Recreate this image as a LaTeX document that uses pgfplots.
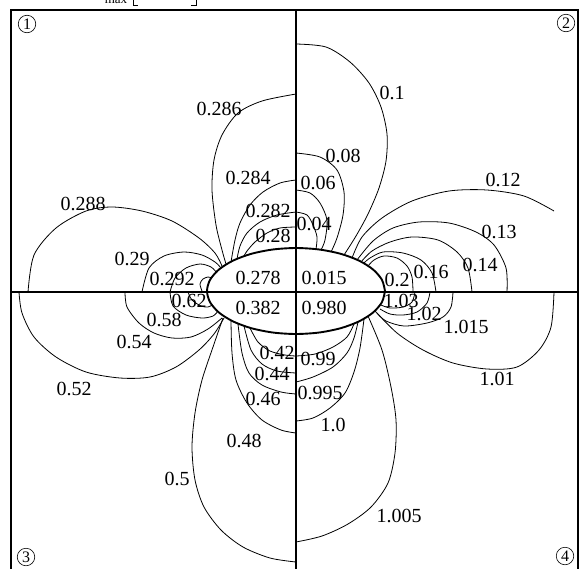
\documentclass[border=0pt]{standalone}
\usepackage{pgfplots}
\pgfplotsset{compat=1.18}
\usepackage{fontspec}
\setmainfont{Liberation Serif}
\tikzset{
  lab/.style={font=\fontsize{20}{24}\selectfont, inner sep=0pt, anchor=center},
  circ/.style={draw, circle, line width=0.6pt, minimum size=17.5pt, inner sep=0pt, font=\fontsize{16}{18}\selectfont},
}
\begin{document}
\begin{tikzpicture}
\begin{axis}[hide axis, x=1pt, y=1pt, y dir=reverse,
  xmin=0, xmax=583, ymin=0, ymax=568, clip=false,
  anchor=south west, at={(0,0)},
  every axis plot/.append style={black, line width=0.8pt, no markers},
]
\coordinate (BL) at (axis cs:0,568);
\coordinate (TR) at (axis cs:583,0);
% frame
\addplot[line width=1.7pt] coordinates {(11,575) (11,10) (578,10) (578,575)};
\addplot[line width=1.7pt] coordinates {(296,10) (296,575)};
\addplot[line width=1.7pt] coordinates {(11,292) (578,292)};
% ellipse (hole)
\addplot[line width=1.9pt, smooth] coordinates {
(385,291) (381.97,279.87) (373.07,269.5) (358.93,260.59) (340.5,253.76) (319.03,249.47)
(296,248) (272.97,249.47) (251.5,253.76) (233.07,260.59) (218.93,269.5) (210.03,279.87)
(207,291) (210.03,302.13) (218.93,312.5) (233.07,321.41) (251.5,328.24) (272.97,332.53)
(296,334) (319.03,332.53) (340.5,328.24) (358.93,321.41) (373.07,312.5) (381.97,302.13) (385,291)};
% ---------- quadrant 1
\addplot[smooth] coordinates {(296,94) (262,101) (238,113) (222,135) (214,160) (212,190) (216,225) (222,250) (226,264)};
\addplot[smooth] coordinates {(296,180) (280,183) (263,192) (250,205) (240,223) (235,240) (231,262)};
\addplot[smooth] coordinates {(296,212) (277,215) (260,222) (247,233) (240,246) (237,259)};
\addplot[smooth] coordinates {(296,227) (280,228) (267,233) (255,242) (247,251) (244,256)};
\addplot[smooth] coordinates {(28,292) (34,255) (56,228) (86,211) (112,207) (142,211) (172,221) (199,238) (215,253) (222,266)};
\addplot[smooth] coordinates {(142,292) (149,268) (164,256) (184,252) (202,255) (215,262) (221,268)};
\addplot[smooth] coordinates {(170,292) (175,278) (186,268) (200,264) (211,267) (217,273)};
\addplot[smooth] coordinates {(202,291) (200,284) (203,279) (208,277) (212,278)};
% ---------- quadrant 2
\addplot[smooth] coordinates {(296,44) (326,47) (350,62) (369,83) (381,107) (387,134) (386,161) (379,188) (368,214) (356,236) (344,255)};
\addplot[smooth] coordinates {(296,153) (320,157) (337,170) (344,192) (343,215) (337,238) (331,252)};
\addplot[smooth] coordinates {(296,190) (310,193) (320,203) (327,220) (325,240) (321,250)};
\addplot[smooth] coordinates {(296,212) (307,215) (313,225) (317,237) (316,249)};
\addplot[smooth] coordinates {(554,211) (524,196) (487,190) (449,191) (412,201) (382,218) (362,237) (352,258)};
\addplot[smooth] coordinates {(507,292) (506,268) (494,245) (476,232) (449,223) (419,222) (393,228) (373,241) (357,260)};
\addplot[smooth] coordinates {(472,292) (468,268) (457,252) (438,240) (412,237) (390,242) (372,251) (361,262)};
\addplot[smooth] coordinates {(436,292) (432,273) (421,260) (403,253) (383,252) (370,258) (364,263)};
\addplot[smooth] coordinates {(413,292) (412,277) (407,266) (397,258) (384,256) (374,260) (368,266)};
% ---------- quadrant 3
\addplot[smooth] coordinates {(19,292) (22,313) (34,337) (56,357) (86,372) (120,378) (150,377) (176,367) (199,350) (214,334) (224,318)};
\addplot[smooth] coordinates {(125,292) (127,307) (139,323) (154,333) (172,338) (191,337) (208,329) (222,318)};
\addplot[smooth] coordinates {(170,292) (173,306) (186,315) (202,318) (213,316) (218,311)};
\addplot[smooth] coordinates {(188,292) (192,300) (201,306) (208,307) (212,305)};
\addplot[smooth] coordinates {(223,318) (213,347) (202,380) (195,413) (192,447) (195,480) (204,507) (221,530) (243,547) (270,558) (296,562)};
\addplot[smooth] coordinates {(231,321) (232,353) (236,380) (247,403) (262,420) (281,430) (296,433)};
\addplot[smooth] coordinates {(238,324) (242,353) (249,373) (262,385) (281,392) (296,394)};
\addplot[smooth] coordinates {(244,326) (251,350) (262,364) (277,371) (296,373)};
\addplot[smooth] coordinates {(250,328) (258,342) (270,351) (285,355) (296,356)};
% ---------- quadrant 4
\addplot[smooth] coordinates {(368,316) (382,350) (391,387) (396,420) (395,453) (388,483) (371,507) (348,524) (322,536) (296,542)};
\addplot[smooth] coordinates {(364,319) (360,348) (354,372) (345,393) (330,408) (313,418) (296,421)};
\addplot[smooth] coordinates {(358,322) (354,338) (347,353) (333,367) (313,377) (296,382)};
\addplot[smooth] coordinates {(354,324) (347,337) (333,347) (315,354) (296,356)};
\addplot[smooth] coordinates {(375,311) (397,333) (423,350) (453,363) (487,369) (517,367) (539,350) (551,327) (554,292)};
\addplot[smooth] coordinates {(453,292) (451,307) (443,317) (427,323) (404,326) (386,321) (377,313)};
\addplot[smooth] coordinates {(430,292) (427,303) (417,312) (403,315) (390,314) (380,309)};
\addplot[smooth] coordinates {(415,292) (412,302) (403,307) (390,308) (381,305)};
% cut-off heading fragment
\addplot[line width=0.8pt, sharp plot] coordinates {(133,-10) (133,5) (138,5)};
\addplot[line width=0.8pt, sharp plot] coordinates {(191,5) (196,5) (196,-10)};
\node[font=\fontsize{13}{15}\selectfont, anchor=base, inner sep=0pt] at (axis cs:116,3.5) {max};
% labels
\node[lab] at (axis cs:219,109) {0.286};
\node[lab] at (axis cs:248,178) {0.284};
\node[lab] at (axis cs:268,211) {0.282};
\node[lab] at (axis cs:273,236) {0.28};
\node[lab] at (axis cs:83,204) {0.288};
\node[lab] at (axis cs:132,259) {0.29};
\node[lab] at (axis cs:172,279) {0.292};
\node[lab] at (axis cs:258,278) {0.278};
\node[lab] at (axis cs:324,278) {0.015};
\node[lab] at (axis cs:258,308) {0.382};
\node[lab] at (axis cs:324,308) {0.980};
\node[lab] at (axis cs:392,93) {0.1};
\node[lab] at (axis cs:343,156) {0.08};
\node[lab] at (axis cs:318,183) {0.06};
\node[lab] at (axis cs:314,224) {0.04};
\node[lab] at (axis cs:503,180) {0.12};
\node[lab] at (axis cs:499,232) {0.13};
\node[lab] at (axis cs:480,265) {0.14};
\node[lab] at (axis cs:431,272) {0.16};
\node[lab] at (axis cs:397,280) {0.2};
\node[lab] at (axis cs:74,389) {0.52};
\node[lab] at (axis cs:134,342) {0.54};
\node[lab] at (axis cs:164,320) {0.58};
\node[lab] at (axis cs:189,301) {0.62};
\node[lab] at (axis cs:277,353) {0.42};
\node[lab] at (axis cs:272,374) {0.44};
\node[lab] at (axis cs:263,399) {0.46};
\node[lab] at (axis cs:244,441) {0.48};
\node[lab] at (axis cs:177,479) {0.5};
\node[lab] at (axis cs:318,359) {0.99};
\node[lab] at (axis cs:320,393) {0.995};
\node[lab] at (axis cs:333,425) {1.0};
\node[lab] at (axis cs:399,516) {1.005};
\node[lab] at (axis cs:497,379) {1.01};
\node[lab] at (axis cs:466,327) {1.015};
\node[lab] at (axis cs:424,314) {1.02};
\node[lab] at (axis cs:401,301) {1.03};
% quadrant numbers
\node[circ] at (axis cs:27,24) {1};
\node[circ] at (axis cs:566,23) {2};
\node[circ] at (axis cs:26,557) {3};
\node[circ] at (axis cs:565,556) {4};
\end{axis}
\pgfresetboundingbox
\useasboundingbox (BL) rectangle (TR);
\end{tikzpicture}
\end{document}
